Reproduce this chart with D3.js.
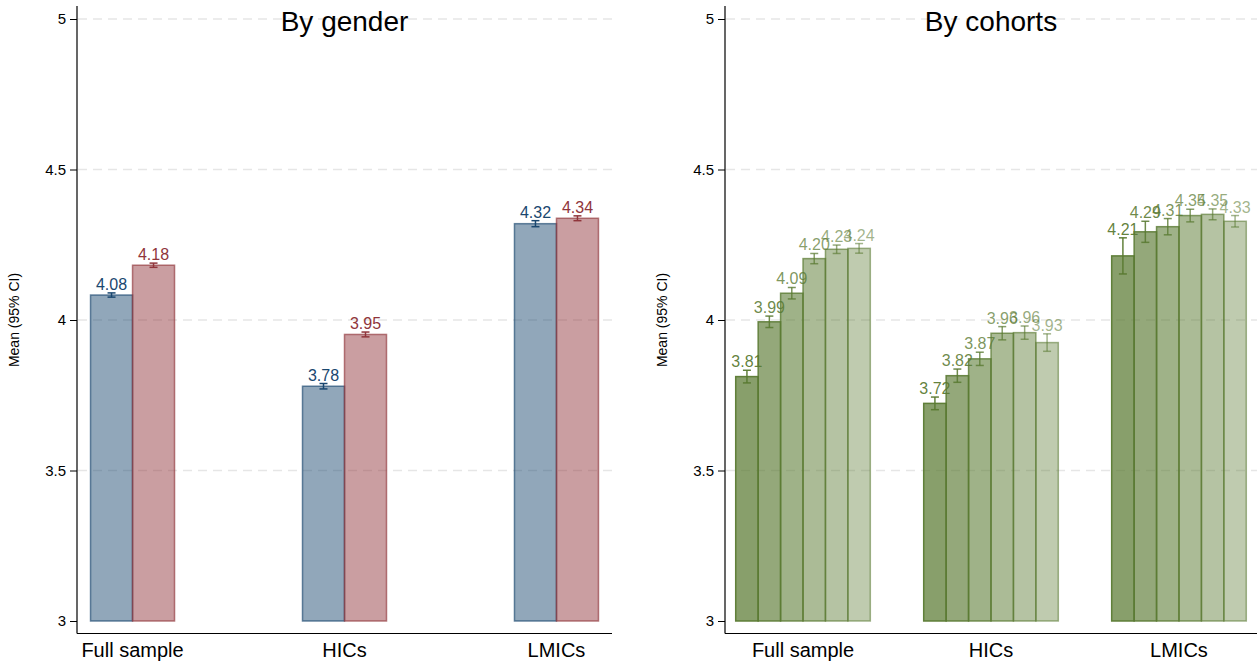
<!DOCTYPE html>
<html>
<head>
<meta charset="utf-8">
<title>Mean (95% CI) by gender and cohorts</title>
<script src="https://d3js.org/d3.v7.min.js"></script>
<style>
  body { margin: 0; background: #fff; }
  text { font-family: "Liberation Sans", Arial, sans-serif; }
</style>
</head>
<body>
<div id="chart"></div>
<script>
// data
var groups = ["Full sample", "HICs", "LMICs"];
var genders = ["Men", "Women"];
var genderMeans = [[4.083, 4.182], [3.78, 3.952], [4.32, 4.338]];
var genderCI = [[0.007, 0.007], [0.009, 0.008], [0.01, 0.008]];
var genderLabels = [["4.08", "4.18"], ["3.78", "3.95"], ["4.32", "4.34"]];

var cohorts = ["c1", "c2", "c3", "c4", "c5", "c6"];
var cohortMeans = [
  [3.812, 3.994, 4.089, 4.204, 4.235, 4.238],
  [3.723, 3.815, 3.871, 3.956, 3.958, 3.925],
  [4.213, 4.293, 4.310, 4.347, 4.351, 4.328]
];
var cohortCI = [
  [0.021, 0.019, 0.019, 0.017, 0.014, 0.016],
  [0.021, 0.022, 0.022, 0.022, 0.022, 0.029],
  [0.06, 0.035, 0.027, 0.021, 0.018, 0.019]
];
var cohortLabels = [
  ["3.81", "3.99", "4.09", "4.20", "4.23", "4.24"],
  ["3.72", "3.82", "3.87", "3.96", "3.96", "3.93"],
  ["4.21", "4.29", "4.31", "4.35", "4.35", "4.33"]
];
var yTicks = [3, 3.5, 4, 4.5, 5];
var yTickLabels = ["3", "3.5", "4", "4.5", "5"];

var W = 1257, H = 662;
var svg = d3.select("#chart").append("svg")
  .attr("width", W).attr("height", H);

var y = d3.scaleLinear().domain([3, 5]).range([621, 19]);

var genderColor = ["#1a476f", "#90353b"];
var green = "#5a7a32";
var cohortFill = [0.72, 0.65, 0.58, 0.51, 0.45, 0.39];
var cohortLine = [0.95, 0.88, 0.8, 0.72, 0.64, 0.56];

// draws one panel: axes, grid, title
function panel(x0, x1, title, padding) {
  var g = svg.append("g");
  var x = d3.scalePoint().domain(groups).range([x0, x1]).padding(padding);

  // grid
  g.selectAll(".grid").data(yTicks.filter(function(d) { return d > 3; }))
    .enter().append("line")
    .attr("x1", x0 + 1).attr("x2", x1)
    .attr("y1", function(d) { return y(d); })
    .attr("y2", function(d) { return y(d); })
    .attr("stroke", "#e6e6e6").attr("stroke-width", 1.3)
    .attr("stroke-dasharray", "9,6");

  // y axis
  var ax = g.append("g").attr("transform", "translate(" + x0 + ",0)")
    .call(d3.axisLeft(y).tickValues(yTicks).tickSize(7).tickPadding(4)
      .tickFormat(function(d, i) { return yTickLabels[i]; }));
  ax.select(".domain").remove();
  ax.selectAll("text").attr("font-size", 15).attr("fill", "#000")
    .style("font-family", "Liberation Sans, Arial, sans-serif");
  ax.selectAll("line").attr("stroke", "#000");

  g.append("line").attr("x1", x0).attr("x2", x0).attr("y1", 6).attr("y2", 633.5)
    .attr("stroke", "#000").attr("stroke-width", 1.2);
  g.append("line").attr("x1", x0).attr("x2", x1).attr("y1", 633.5).attr("y2", 633.5)
    .attr("stroke", "#000").attr("stroke-width", 1.2);

  // x labels
  g.selectAll(".xl").data(groups).enter().append("text")
    .attr("x", function(d) { return x(d); })
    .attr("y", 657)
    .attr("text-anchor", "middle")
    .attr("font-size", 20)
    .text(function(d) { return d; });

  g.append("text").attr("x", (x0 + x1) / 2).attr("y", 31)
    .attr("text-anchor", "middle").attr("font-size", 28).text(title);

  g.append("text")
    .attr("transform", "translate(" + (x0 - 58) + "," + y(4) + ") rotate(-90)")
    .attr("text-anchor", "middle").attr("font-size", 14)
    .text("Mean (95% CI)");

  return {g: g, x: x};
}

// a bar with its error bar and value label
function bar(g, cx, w, v, ci, label, fill, fillOp, strokeOp, markOp, cap) {
  g.append("rect")
    .attr("x", cx - w / 2).attr("width", w)
    .attr("y", y(v)).attr("height", y(3) - y(v))
    .attr("fill", fill).attr("fill-opacity", fillOp)
    .attr("stroke", fill).attr("stroke-opacity", strokeOp)
    .attr("stroke-width", 1.5);
  var e = g.append("g").attr("stroke", fill).attr("stroke-opacity", markOp)
    .attr("stroke-width", 1.5);
  e.append("line").attr("x1", cx).attr("x2", cx).attr("y1", y(v + ci)).attr("y2", y(v - ci));
  e.append("line").attr("x1", cx - cap).attr("x2", cx + cap).attr("y1", y(v + ci)).attr("y2", y(v + ci));
  e.append("line").attr("x1", cx - cap).attr("x2", cx + cap).attr("y1", y(v - ci)).attr("y2", y(v - ci));
  g.append("text").attr("x", cx).attr("y", y(v + ci) - 3)
    .attr("text-anchor", "middle").attr("font-size", 16)
    .attr("fill", fill).attr("fill-opacity", markOp)
    .text(label);
}

// By gender
var p1 = panel(77, 612, "By gender", 0.262);
var xg = d3.scaleBand().domain(genders).range([-42, 42]);
groups.forEach(function(grp, i) {
  genders.forEach(function(s, j) {
    var cx = p1.x(grp) + xg(s) + xg.bandwidth() / 2;
    bar(p1.g, cx, xg.bandwidth(), genderMeans[i][j], genderCI[i][j], genderLabels[i][j],
        genderColor[j], 0.48, 0.65, 1, 4);
  });
});

// By cohorts
var p2 = panel(725, 1257, "By cohorts", 0.415);
var xc = d3.scaleBand().domain(cohorts).range([-67.3, 67.3]);
groups.forEach(function(grp, i) {
  cohorts.forEach(function(c, j) {
    var cx = p2.x(grp) + xc(c) + xc.bandwidth() / 2;
    bar(p2.g, cx, xc.bandwidth(), cohortMeans[i][j], cohortCI[i][j], cohortLabels[i][j],
        green, cohortFill[j], cohortLine[j], cohortLine[j], 4);
  });
});
</script>
</body>
</html>
